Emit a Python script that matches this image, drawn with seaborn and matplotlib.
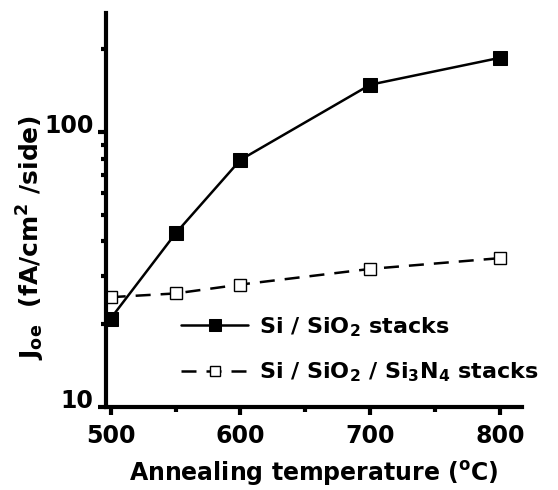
import numpy as np
import pandas as pd
import matplotlib
matplotlib.use("Agg")
import matplotlib.pyplot as plt
import matplotlib.transforms as mtrans
import seaborn as sns
from matplotlib.ticker import LogLocator, NullFormatter, FixedLocator, FixedFormatter

temps = [500, 550, 600, 700, 800]
sio2 = [21, 42.8, 79.2, 148.5, 186]
sio2_sin = [25.1, 25.9, 27.9, 31.8, 34.8]

lab_sio2 = r"Si / SiO$_2$ stacks"
lab_sin = r"Si / SiO$_2$ / Si$_3$N$_4$ stacks"

sns.set_style("ticks")
plt.rcParams["font.family"] = ["DejaVu Sans"]
plt.rcParams["font.weight"] = "bold"
plt.rcParams["text.color"] = "black"
plt.rcParams["axes.labelcolor"] = "black"
plt.rcParams["xtick.color"] = "black"
plt.rcParams["ytick.color"] = "black"
plt.rcParams["axes.edgecolor"] = "black"
plt.rcParams["mathtext.fontset"] = "custom"
plt.rcParams["mathtext.rm"] = "DejaVu Sans:bold"
plt.rcParams["mathtext.it"] = "DejaVu Sans:bold"
plt.rcParams["mathtext.default"] = "rm"

df = pd.DataFrame({"T": temps, "a": sio2, "b": sio2_sin})

fig = plt.figure(figsize=(5.58, 4.90), dpi=100)
ax = fig.add_axes([0.190, 0.169, 0.745, 0.804])

sns.lineplot(data=df, x="T", y="a", ax=ax, color="black", lw=1.8, marker="s",
             markersize=9.5, markerfacecolor="black", markeredgecolor="black",
             label=lab_sio2)
sns.lineplot(data=df, x="T", y="b", ax=ax, color="black", lw=1.8, linestyle="--",
             marker="s", markersize=8.5, markerfacecolor="white",
             markeredgecolor="black", markeredgewidth=1.0, label=lab_sin)
ax.lines[1].set_dashes((6, 4))

ax.set_yscale("log")
ax.set_ylim(10, 270)
ax.set_xlim(496.4, 816.7)

ax.xaxis.set_major_locator(FixedLocator([500, 600, 700, 800]))
ax.xaxis.set_minor_locator(FixedLocator([550, 650, 750]))
ax.yaxis.set_major_locator(FixedLocator([10, 100]))
ax.yaxis.set_major_formatter(FixedFormatter(["10", "100"]))
ax.yaxis.set_minor_locator(LogLocator(base=10, subs=np.arange(2, 10)))
ax.yaxis.set_minor_formatter(NullFormatter())

for s in ["top", "right"]:
    ax.spines[s].set_visible(False)
for s in ["left", "bottom"]:
    ax.spines[s].set_linewidth(3)

ax.tick_params(which="major", direction="out", length=6, width=3, labelsize=17)
ax.tick_params(axis="x", which="major", pad=6)
ax.tick_params(axis="y", which="major", pad=3)
ax.tick_params(which="minor", direction="out", length=3.5, width=3)
up = mtrans.ScaledTranslation(0, 6 / 72, fig.dpi_scale_trans)
for t in ax.get_yticklabels():
    t.set_transform(t.get_transform() + up)
for t in ax.get_xticklabels() + ax.get_yticklabels():
    t.set_fontweight("bold")

ax.set_xlabel(r"Annealing temperature ($^{\mathregular{o}}$C)", fontsize=17,
              fontweight="bold", labelpad=8)
ax.set_ylabel(r"J$_{\mathregular{oe}}$  (fA/cm$^{\mathregular{2}}$ /side)", fontsize=18,
              fontweight="bold")
ax.yaxis.set_label_coords(-0.142, 0.43)

ax.legend(loc="upper left", bbox_to_anchor=(0.325, 0.357), bbox_transform=fig.transFigure,
          frameon=False, fontsize=16, handlelength=3.0, handletextpad=0.5,
          labelspacing=1.0, borderpad=0, borderaxespad=0, markerscale=0.85)

fig.savefig("out.png", dpi=100)
